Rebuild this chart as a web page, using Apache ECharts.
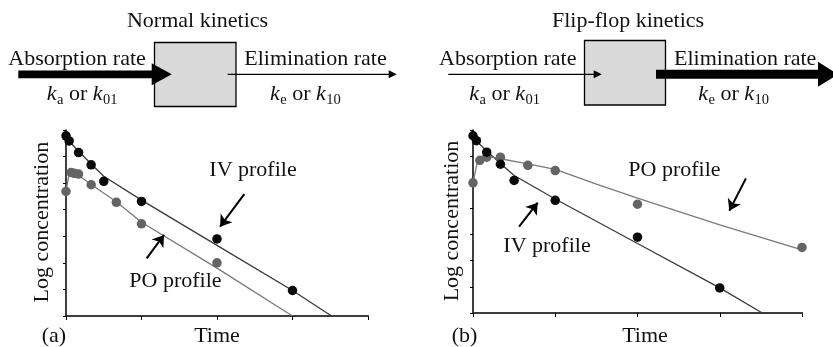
<!DOCTYPE html>
<html>
<head>
<meta charset="utf-8">
<title>Normal vs flip-flop kinetics</title>
<script src="https://cdn.jsdelivr.net/npm/echarts@6/dist/echarts.min.js"></script>
<style>
  html, body { margin: 0; padding: 0; background: #fff; }
  #chart { width: 833px; height: 347px; }
</style>
</head>
<body>
<div id="chart"></div>
<script>
// ---- Observed concentrations (log scale units) ----
const ivTime = [0, 0.25, 1, 2, 3, 6, 12, 18];
const ivConc = [6.78, 6.59, 6.15, 5.69, 5.07, 4.31, 2.90, 0.96];

const poTimeA = [0, 0.4, 0.65, 1, 2, 4, 6, 12];
const poConcA = [4.69, 5.40, 5.37, 5.34, 4.94, 4.28, 3.47, 2.00];

const poTimeB = [0, 0.5, 1, 2, 4, 6, 12, 24];
const poConcB = [4.98, 5.84, 5.96, 5.96, 5.65, 5.45, 4.16, 2.51];

// ---- Fitted profiles ----
const ivFitTime = [0, 0.4, 1, 2, 3, 6, 12, 18, 21.1];
const ivFitConc = [6.85, 6.5, 6.2, 5.72, 5.26, 4.36, 2.66, 0.96, 0];

const poFitTimeA = [0, 0.3, 0.65, 1, 2, 4, 6, 12, 18];
const poFitConcA = [4.69, 5.48, 5.39, 5.3, 4.95, 4.3, 3.53, 1.8, 0];

const poFitTimeB = [0, 0.35, 1, 2, 4, 6, 9, 12, 18, 24];
const poFitConcB = [4.98, 5.87, 6.0, 5.9, 5.70, 5.49, 4.93, 4.39, 3.37, 2.41];

// ---- Axis ticks ----
const timeTicks = [0, 6, 12, 18, 24];
const concTicks = [0, 1, 2, 3, 4, 5, 6, 7];

// ---- Annotation arrows, [fromTime, fromConc, toTime, toConc] ----
const arrowsA = [[14.17, 4.59, 12.24, 3.36], [6.41, 2.17, 7.79, 3.05]];
const arrowsB = [[19.91, 5.15, 18.70, 3.91], [3.36, 3.30, 4.72, 4.22]];

const SERIF = '"Liberation Serif", "Times New Roman", serif';
const INK = '#111';
const IV_DOT = '#0a0a0a', PO_DOT = '#646464';
const IV_LINE = '#3a3a3a', PO_LINE = '#7a7a7a';

const zip = (xs, ys) => xs.map((x, i) => [x, ys[i]]);

function xAxisCfg(gridIndex) {
  return {
    type: 'value', gridIndex,
    min: timeTicks[0], max: timeTicks[timeTicks.length - 1],
    interval: timeTicks[1] - timeTicks[0],
    axisLine: { show: true, onZero: false, lineStyle: { color: '#3c3c3c', width: 2 } },
    axisTick: { show: true, length: 4, lineStyle: { color: '#000', width: 1 } },
    axisLabel: { show: false },
    splitLine: { show: false }
  };
}
function yAxisCfg(gridIndex) {
  return {
    type: 'value', gridIndex,
    min: concTicks[0], max: concTicks[concTicks.length - 1],
    interval: concTicks[1] - concTicks[0],
    axisLine: { show: true, onZero: false, lineStyle: { color: '#000', width: 1.5 } },
    axisTick: { show: true, length: 3, lineStyle: { color: '#000', width: 1 } },
    axisLabel: { show: false },
    splitLine: { show: false }
  };
}

function fitLine(idx, xs, ys, color) {
  return {
    type: 'line', xAxisIndex: idx, yAxisIndex: idx,
    data: zip(xs, ys), showSymbol: false, symbol: 'none',
    lineStyle: { color, width: 1.3 }, z: 2, silent: true
  };
}
function dots(idx, xs, ys, color, arrows) {
  const s = {
    type: 'scatter', xAxisIndex: idx, yAxisIndex: idx,
    data: zip(xs, ys), symbolSize: 9.5,
    itemStyle: { color, opacity: 1 }, z: 3, silent: true
  };
  if (arrows) {
    s.markLine = {
      silent: true, symbol: ['none', 'arrow'], symbolSize: 11,
      label: { show: false },
      lineStyle: { color: '#000', width: 2, type: 'solid' },
      itemStyle: { color: '#000' },
      emphasis: { disabled: true },
      data: arrows.map(a => [{ coord: [a[0], a[1]] }, { coord: [a[2], a[3]] }])
    };
  }
  return s;
}

// ---- text helpers ----
const measureCtx = document.createElement('canvas').getContext('2d');
function textW(str, font) { measureCtx.font = font; return measureCtx.measureText(str).width; }

function label(str, x, y, opts = {}) {
  const size = opts.size || 22;
  const font = (opts.italic ? 'italic ' : '') + size + 'px ' + SERIF;
  return {
    type: 'text', z: 20, silent: true,
    x: opts.rot ? x : 0, y: opts.rot ? y : 0,
    rotation: opts.rot || 0,
    style: {
      text: str, x: opts.rot ? 0 : x, y: opts.rot ? 0 : y, font, fill: INK,
      align: opts.align || 'left', verticalAlign: 'middle',
      textAlign: opts.align || 'left', textVerticalAlign: 'middle'
    }
  };
}

// rate constant label: k<sub>s1</sub> or k<sub>s2</sub>
function rateLabel(x, baseY, s1, s2) {
  const main = 22, sub = 14.5;
  const mainFont = main + 'px ' + SERIF, itFont = 'italic ' + main + 'px ' + SERIF;
  const subFont = sub + 'px ' + SERIF;
  const mainMid = baseY - 0.3375 * main;
  const subMid = baseY + 4 - 0.3375 * sub;
  const parts = [
    ['k', 'it'], [s1, 'sub'], [' or ', 'main'], ['k', 'it'], [s2, 'sub']
  ];
  const out = [];
  let cx = x;
  parts.forEach(([t, kind]) => {
    const f = kind === 'it' ? itFont : kind === 'sub' ? subFont : mainFont;
    out.push({
      type: 'text', z: 20, silent: true,
      style: {
        text: t, x: cx, y: kind === 'sub' ? subMid : mainMid, font: f, fill: INK,
        align: 'left', verticalAlign: 'middle', textAlign: 'left', textVerticalAlign: 'middle'
      }
    });
    cx += textW(t, f) + (kind === 'it' ? 0.5 : 0);
  });
  return out;
}

function box(x, y, w, h) {
  return {
    type: 'rect', z: 10, silent: true,
    shape: { x, y, width: w, height: h },
    style: { fill: '#d9d9d9', stroke: '#000', lineWidth: 1.3 }
  };
}
function thickArrow(x1, x2, y, shaftHalf, headLen, headHalf) {
  const hx = x2 - headLen;
  return {
    type: 'polygon', z: 12, silent: true,
    shape: { points: [
      [x1, y - shaftHalf], [hx, y - shaftHalf], [hx, y - headHalf], [x2, y],
      [hx, y + headHalf], [hx, y + shaftHalf], [x1, y + shaftHalf]
    ] },
    style: { fill: '#000' }
  };
}
function thinArrow(x1, x2, y) {
  return [
    { type: 'line', z: 12, silent: true,
      shape: { x1, y1: y, x2: x2 - 6, y2: y }, style: { stroke: '#000', lineWidth: 1.2 } },
    { type: 'polygon', z: 12, silent: true,
      shape: { points: [[x2 - 8, y - 4], [x2, y], [x2 - 8, y + 4]] }, style: { fill: '#000' } }
  ];
}

const ARROW_Y = 74.3;
const graphics = [
  // panel (a) scheme
  label('Normal kinetics', 197.5, 20.8, { align: 'center' }),
  box(154.5, 42.5, 81.5, 64),
  thickArrow(18.3, 171.7, ARROW_Y, 3.9, 20, 11),
  ...thinArrow(227.7, 396.7, ARROW_Y),
  label('Absorption rate', 8.3, 58.8),
  label('Elimination rate', 244.3, 58.8),
  ...rateLabel(46.7, 101.5, 'a', '01'),
  ...rateLabel(270, 101.5, 'e', '10'),

  // panel (b) scheme
  label('Flip-flop kinetics', 628, 20.8, { align: 'center' }),
  box(584.5, 40.5, 81, 64.5),
  ...thinArrow(448.3, 601.7, ARROW_Y),
  thickArrow(656, 838, ARROW_Y, 4.5, 20, 12.5),
  label('Absorption rate', 439, 58.8),
  label('Elimination rate', 674, 58.8),
  ...rateLabel(469.3, 101.5, 'a', '01'),
  ...rateLabel(698.3, 101.5, 'e', '10'),

  // chart texts (a)
  label('IV profile', 209.3, 169.9),
  label('PO profile', 129.3, 280.9),
  label('Log concentration', 41.9, 222.2, { align: 'center', rot: Math.PI / 2 }),
  label('Time', 217, 336.6, { align: 'center' }),
  label('(a)', 41.7, 336.6),

  // chart texts (b)
  label('PO profile', 628.3, 169.9),
  label('IV profile', 503.3, 245.9),
  label('Log concentration', 451.9, 221, { align: 'center', rot: Math.PI / 2 }),
  label('Time', 645, 336.6, { align: 'center' }),
  label('(b)', 451.7, 336.6)
];

const chart = echarts.init(document.getElementById('chart'), null, { renderer: 'canvas' });
chart.setOption({
  animation: false,
  backgroundColor: '#fff',
  grid: [
    { left: 66, top: 130, width: 302, height: 186 },
    { left: 473, top: 130, width: 329, height: 183 }
  ],
  xAxis: [xAxisCfg(0), xAxisCfg(1)],
  yAxis: [yAxisCfg(0), yAxisCfg(1)],
  series: [
    fitLine(0, ivFitTime, ivFitConc, IV_LINE),
    fitLine(0, poFitTimeA, poFitConcA, PO_LINE),
    dots(0, poTimeA, poConcA, PO_DOT, arrowsA),
    dots(0, ivTime, ivConc, IV_DOT),
    fitLine(1, ivFitTime, ivFitConc, IV_LINE),
    fitLine(1, poFitTimeB, poFitConcB, PO_LINE),
    dots(1, poTimeB, poConcB, PO_DOT, arrowsB),
    dots(1, ivTime, ivConc, IV_DOT)
  ],
  graphic: graphics
});
</script>
</body>
</html>
